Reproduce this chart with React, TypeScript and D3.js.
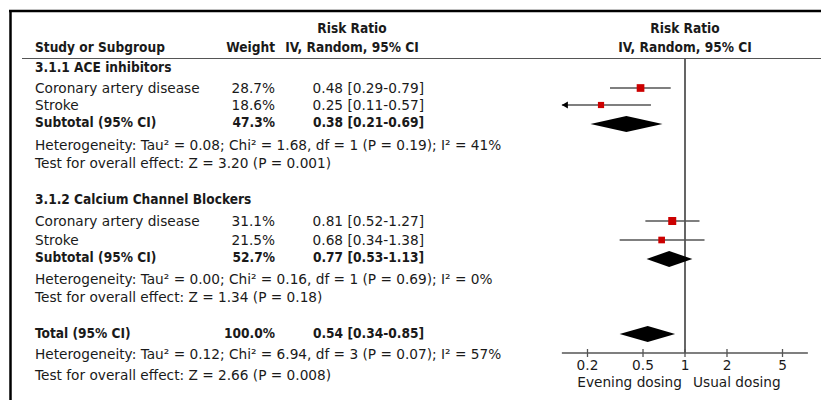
import React from 'react';
import * as d3 from 'd3';

// forest plot data
const groupTitles = ['3.1.1 ACE inhibitors', '3.1.2 Calcium Channel Blockers'];
const studyNames = ['Coronary artery disease', 'Stroke', 'Coronary artery disease', 'Stroke'];
const studyGroup = [0, 0, 1, 1];
const studyWeight = [28.7, 18.6, 31.1, 21.5];
const studyRR = [0.48, 0.25, 0.81, 0.68];
const studyLow = [0.29, 0.11, 0.52, 0.34];
const studyHigh = [0.79, 0.57, 1.27, 1.38];

const subWeight = [47.3, 52.7];
const subRR = [0.38, 0.77];
const subLow = [0.21, 0.53];
const subHigh = [0.69, 1.13];

const totalWeight = 100.0;
const totalRR = 0.54;
const totalLow = 0.34;
const totalHigh = 0.85;

const hetTexts = [
  'Heterogeneity: Tau² = 0.08; Chi² = 1.68, df = 1 (P = 0.19); I² = 41%',
  'Heterogeneity: Tau² = 0.00; Chi² = 0.16, df = 1 (P = 0.69); I² = 0%',
  'Heterogeneity: Tau² = 0.12; Chi² = 6.94, df = 3 (P = 0.07); I² = 57%',
];
const effectTexts = [
  'Test for overall effect: Z = 3.20 (P = 0.001)',
  'Test for overall effect: Z = 1.34 (P = 0.18)',
  'Test for overall effect: Z = 2.66 (P = 0.008)',
];

const tickValues = [0.2, 0.5, 1, 2, 5];
const tickLabels = ['0.2', '0.5', '1', '2', '5'];
const axisExtent = [0.131, 7.6];
const favourLabels = ['Evening dosing', 'Usual dosing'];

const W = 821;
const H = 400;
const FONT = '"DejaVu Sans", sans-serif';
const FONT_BOLD = '"DejaVu Sans Condensed", "DejaVu Sans", sans-serif';
const FS = 13.7;
const FS_BOLD = 13.6;

// row centres (layout)
const groupTitleY = [67, 199];
const studyY = [88, 105, 221, 240];
const subY = [122, 257];
const hetY = [145, 279, 354];
const effY = [163, 297, 375];
const totalY = 333;

const fmtW = (w: number) => w.toFixed(1) + '%';
const fmtCI = (r: number, l: number, h: number) =>
  `${r.toFixed(2)} [${l.toFixed(2)}-${h.toFixed(2)}]`;

export default function App() {
  const x = d3.scaleLog().domain([0.1, 10]).range([545.5, 824.5]);
  const size = d3.scaleSqrt().domain([0, 31.1]).range([0, 8]);
  const axisY = 353;
  const x0 = x(axisExtent[0]);
  const x1 = x(axisExtent[1]);
  const nameX = 35;
  const weightX = 275;
  const ciX = 424;

  const txt = (s: string, xx: number, yy: number, anchor = 'start', bold = false, key?: any) => (
    <text key={key} x={xx} y={yy} dy="0.36em" textAnchor={anchor}
      fontSize={bold ? FS_BOLD : FS}
      fontFamily={bold ? FONT_BOLD : FONT}
      fontWeight={bold ? 'bold' : 'normal'}>{s}</text>
  );

  const diamond = (r: number, l: number, h: number, cy: number) => {
    const pts = [[x(l), cy], [x(r), cy - 8], [x(h), cy], [x(r), cy + 8]];
    return <path d={d3.line()(pts as [number, number][]) + 'Z'} fill="#000" />;
  };

  return (
    <div>
      <style>{'body{margin:0}'}</style>
      <svg width={W} height={H} style={{ display: 'block', background: '#fff' }}
        fontFamily={FONT} fontSize={FS} fill="#1a1a1a">
        {/* frame */}
        <line x1={9} x2={W} y1={11} y2={11} stroke="#000" strokeWidth={2.5} />
        <line x1={10.5} x2={10.5} y1={10} y2={H} stroke="#000" strokeWidth={2.5} />
        <line x1={22} x2={W} y1={58.5} y2={58.5} stroke="#555" strokeWidth={1} />

        {/* headers */}
        {txt('Risk Ratio', 352, 28, 'middle', true)}
        {txt('Study or Subgroup', nameX, 47, 'start', true)}
        {txt('Weight', weightX, 47, 'end', true)}
        {txt('IV, Random, 95% CI', 352, 47, 'middle', true)}
        {txt('Risk Ratio', x(1), 28, 'middle', true)}
        {txt('IV, Random, 95% CI', x(1), 47, 'middle', true)}

        {groupTitles.map((g, i) => txt(g, nameX, groupTitleY[i], 'start', true, 'g' + i))}

        {studyNames.map((n, i) => (
          <g key={'s' + i}>
            {txt(n, nameX, studyY[i])}
            {txt(fmtW(studyWeight[i]), weightX, studyY[i], 'end')}
            {txt(fmtCI(studyRR[i], studyLow[i], studyHigh[i]), ciX, studyY[i], 'end')}
          </g>
        ))}

        {subWeight.map((w, i) => (
          <g key={'sub' + i}>
            {txt('Subtotal (95% CI)', nameX, subY[i], 'start', true)}
            {txt(fmtW(w), weightX, subY[i], 'end', true)}
            {txt(fmtCI(subRR[i], subLow[i], subHigh[i]), ciX, subY[i], 'end', true)}
          </g>
        ))}

        {txt('Total (95% CI)', nameX, totalY, 'start', true)}
        {txt(fmtW(totalWeight), weightX, totalY, 'end', true)}
        {txt(fmtCI(totalRR, totalLow, totalHigh), ciX, totalY, 'end', true)}

        {hetTexts.map((t, i) => txt(t, nameX, hetY[i], 'start', false, 'h' + i))}
        {effectTexts.map((t, i) => txt(t, nameX, effY[i], 'start', false, 'e' + i))}

        {/* null line */}
        <line x1={x(1)} x2={x(1)} y1={59} y2={axisY} stroke="#555" strokeWidth={1.8} />

        {/* study CIs and squares */}
        {studyRR.map((r, i) => {
          const lo = Math.max(x(studyLow[i]), x0);
          const hi = Math.min(x(studyHigh[i]), x1);
          const s = size(studyWeight[i]);
          const cy = studyY[i];
          return (
            <g key={'m' + i}>
              <line x1={lo} x2={hi} y1={cy} y2={cy} stroke="#555" strokeWidth={1.3} />
              {x(studyLow[i]) < x0 && (
                <path d={`M${x0},${cy}l6,-3.5v7z`} fill="#000" />
              )}
              <rect x={x(r) - s / 2} y={cy - s / 2} width={s} height={s} fill="#cc0000" />
            </g>
          );
        })}

        {subRR.map((r, i) => <g key={'d' + i}>{diamond(r, subLow[i], subHigh[i], subY[i] + 2)}</g>)}
        {diamond(totalRR, totalLow, totalHigh, totalY + 1)}

        {/* axis */}
        <line x1={x0} x2={x1} y1={axisY} y2={axisY} stroke="#555" strokeWidth={1.3} />
        {tickValues.map((t, i) => (
          <g key={'t' + i}>
            <line x1={x(t)} x2={x(t)} y1={axisY - 4} y2={axisY + 4} stroke="#555" strokeWidth={1.3} />
            {txt(tickLabels[i], x(t), axisY + 12, 'middle')}
          </g>
        ))}
        {txt(favourLabels[0], x(1) - 3, axisY + 29, 'end')}
        {txt(favourLabels[1], x(1) + 8, axisY + 29, 'start')}
      </svg>
    </div>
  );
}
